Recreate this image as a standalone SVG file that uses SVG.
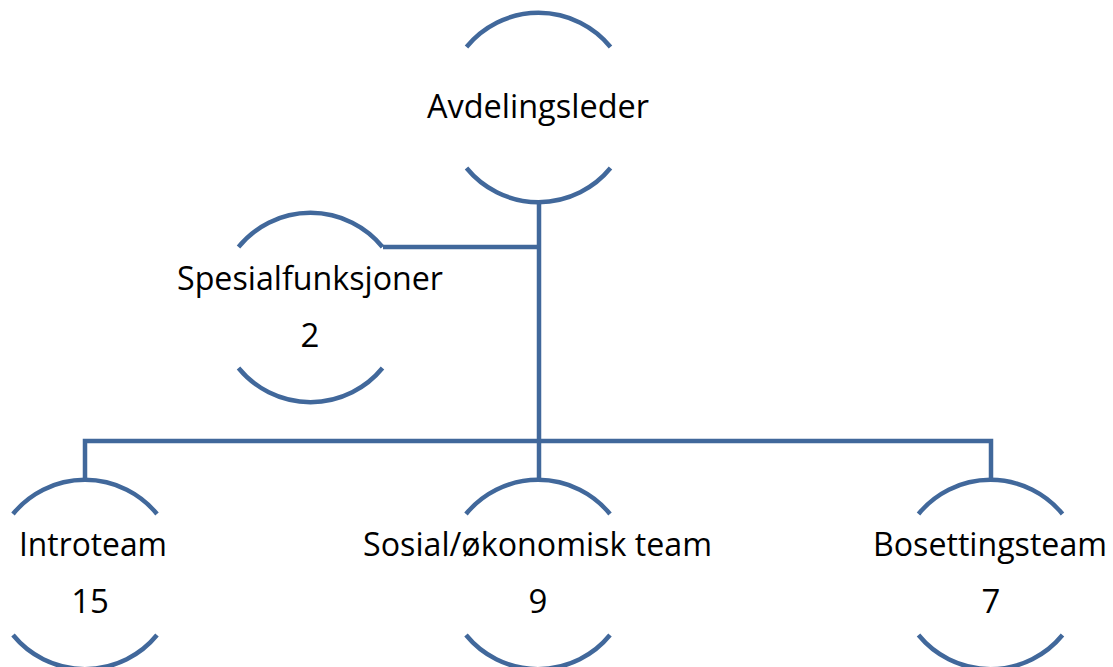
<svg xmlns="http://www.w3.org/2000/svg" width="1113" height="667" viewBox="0 0 1113 667">
<style>
.arc{fill:none;stroke:#41689B;stroke-width:4.5;stroke-linecap:butt}
.con{fill:none;stroke:#41689B;stroke-width:4.5;stroke-linejoin:miter;stroke-linecap:butt}
.t{font-family:"Open Sans","Liberation Sans",sans-serif;font-size:33px;fill:#000;text-anchor:middle}
</style>
<rect width="1113" height="667" fill="#fff"/>
<g id="connectors">
<path class="con" d="M539 202 V441"/>
<path class="con" d="M383 247 H539"/>
<path class="con" d="M85 480 V441 H991 V480"/>
<path class="con" d="M539 441 V480"/>
</g>
<g id="avdelingsleder">
<path class="arc" d="M466.5 47 A93 93 0 0 1 610.5 47"/>
<path class="arc" d="M466.5 168 A93 93 0 0 0 610.5 168"/>
<text class="t" x="538" y="118" textLength="222" lengthAdjust="spacingAndGlyphs">Avdelingsleder</text>
</g>
<g id="spesialfunksjoner">
<path class="arc" d="M238.5 247 A93 93 0 0 1 382.5 247"/>
<path class="arc" d="M238.5 368 A93 93 0 0 0 382.5 368"/>
<text class="t" x="310" y="290" textLength="266" lengthAdjust="spacingAndGlyphs">Spesialfunksjoner</text>
<text class="t" x="310" y="347">2</text>
</g>
<g id="introteam">
<path class="arc" d="M13 514 A93 93 0 0 1 157 514"/>
<path class="arc" d="M13 635 A93 93 0 0 0 157 635"/>
<text class="t" x="93" y="556" textLength="148" lengthAdjust="spacingAndGlyphs">Introteam</text>
<text class="t" x="90" y="613">15</text>
</g>
<g id="sosial">
<path class="arc" d="M466 514 A93 93 0 0 1 610 514"/>
<path class="arc" d="M466 635 A93 93 0 0 0 610 635"/>
<text class="t" x="537.5" y="556" textLength="349" lengthAdjust="spacingAndGlyphs">Sosial/økonomisk team</text>
<text class="t" x="538" y="613">9</text>
</g>
<g id="bosettingsteam">
<path class="arc" d="M918.5 514 A93 93 0 0 1 1062.5 514"/>
<path class="arc" d="M918.5 635 A93 93 0 0 0 1062.5 635"/>
<text class="t" x="990" y="556" textLength="234" lengthAdjust="spacingAndGlyphs">Bosettingsteam</text>
<text class="t" x="991" y="613">7</text>
</g>
</svg>
